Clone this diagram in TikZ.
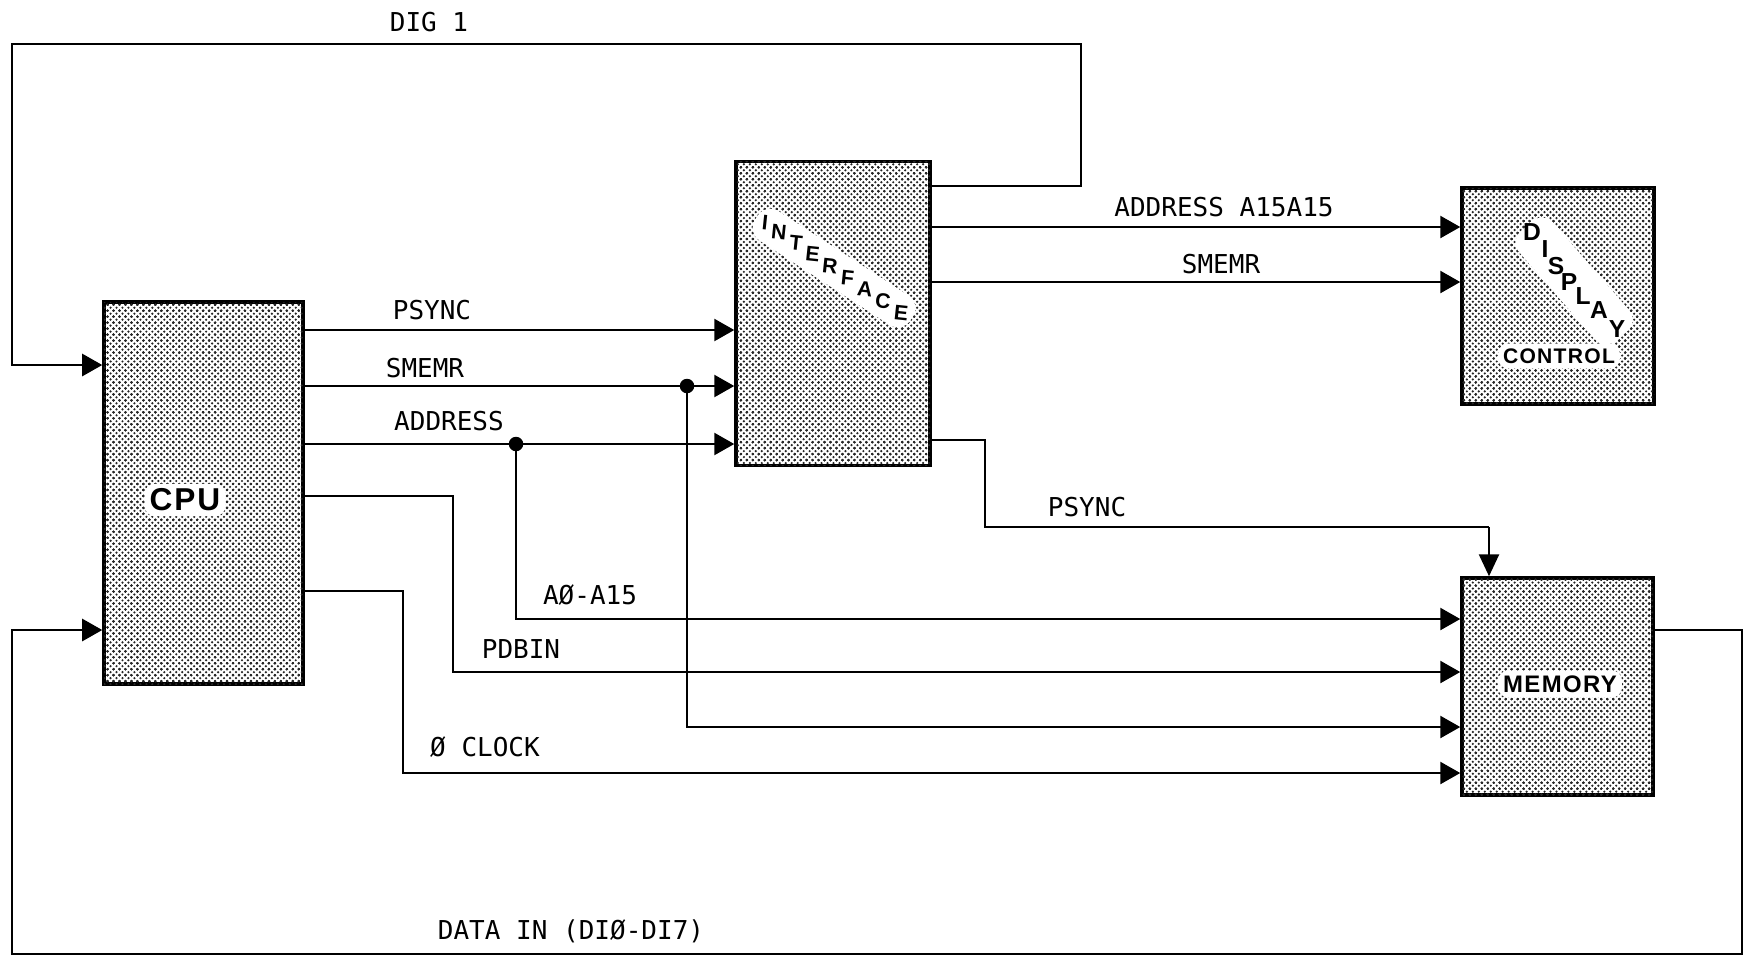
\documentclass[tikz,border=0pt]{standalone}
\usepackage{fontspec}
\usepackage{tikz}
\usetikzlibrary{arrows.meta,patterns}
\newfontfamily\sigfont{DejaVu Sans Mono}
\newfontfamily\boxfont[LetterSpace=6]{Liberation Sans}

\pgfdeclarepatternformonly{halftone}{\pgfqpoint{-1pt}{-1pt}}{\pgfqpoint{4.4pt}{4.4pt}}{\pgfqpoint{3.4pt}{3.4pt}}{%
  \pgfpathcircle{\pgfqpoint{0pt}{0pt}}{.7pt}
  \pgfpathcircle{\pgfqpoint{1.7pt}{1.7pt}}{.7pt}
  \pgfpathcircle{\pgfqpoint{3.4pt}{3.4pt}}{.7pt}
  \pgfpathcircle{\pgfqpoint{3.4pt}{0pt}}{.7pt}
  \pgfpathcircle{\pgfqpoint{0pt}{3.4pt}}{.7pt}
  \pgfusepath{fill}}

\tikzset{
  blk/.style={draw,line width=0.7mm,fill=white,postaction={pattern=halftone,pattern color=black!85}},
  sig/.style={line width=0.5mm},
  sigarr/.style={sig,-{Triangle[length=4mm,width=4.4mm]}},
  lbl/.style={font=\sigfont\fontsize{14.8}{16}\selectfont,inner sep=0pt},
  halo/.style={fill=white,rounded corners=2mm,inner sep=1mm},
  ltr/.style={font=\boxfont\bfseries\fontsize{12}{14}\selectfont,inner sep=0pt},
  jdot/.style={circle,fill,inner sep=0pt,minimum size=2.9mm}
}

\begin{document}
\begin{tikzpicture}[x=0.2mm,y=-0.2mm]
\useasboundingbox (0,0) rectangle (1755,956);
% blocks
\node[blk,minimum width=39.8mm,minimum height=76.4mm] (cpu) at (203.5,493) {};
\node[blk,minimum width=38.8mm,minimum height=60.8mm] (ifc) at (833,313.5) {};
\node[blk,minimum width=38.4mm,minimum height=43.2mm] (disp) at (1558,296) {};
\node[blk,minimum width=38.2mm,minimum height=43.4mm] (mem) at (1557.5,686.5) {};

\node[halo,font=\boxfont\bfseries\fontsize{18}{20}\selectfont] (cpulbl) at (185,500) {CPU};
\node[halo,font=\boxfont\bfseries\fontsize{13.6}{16}\selectfont] (memlbl) at (1560,684) {MEMORY};
\node[fill=white,rotate=-33,minimum width=37mm,minimum height=7mm,rounded corners=3mm] (ifcband) at (834,268) {};
\node[fill=white,rotate=-49,minimum width=29mm,minimum height=9mm,rounded corners=3mm] (dispband) at (1574,281) {};
\node[halo,font=\boxfont\bfseries\fontsize{12}{14}\selectfont] (ctllbl) at (1559,356) {CONTROL};
\foreach \ch/\px/\py [count=\k] in {I/765/223,N/779/232,T/796/243,E/812.5/254,R/830/266,F/847.5/277.5,A/865/289,C/883/301,E/901/313}
  \node[ltr,rotate=-6] (ifl\k) at (\px,\py) {\ch};
\foreach \ch/\px/\py [count=\k] in {D/1532/232,I/1545/249,S/1556/266,P/1569/282,L/1583/296,A/1599/310,Y/1617/329}
  \node[ltr,font=\boxfont\bfseries\fontsize{14}{16}\selectfont] (dpl\k) at (\px,\py) {\ch};

% junctions and bends
\node[jdot] (j1) at (516,444) {};
\node[jdot] (j2) at (687,386) {};
\coordinate (dg) at (1081,44);
\coordinate (pk) at (1489,527);

% CPU to interface
\draw[sigarr] (cpu.east |- 0,330) -- (ifc.west |- 0,330);
\draw[sigarr] (cpu.east |- 0,386) -- (ifc.west |- 0,386);
\draw[sigarr] (cpu.east |- 0,444) -- (ifc.west |- 0,444);
% CPU to memory
\draw[sigarr] (j1.center) -- (516,619) -- (mem.west |- 0,619);
\draw[sigarr] (cpu.east |- 0,496) -| (453,672) -- (mem.west |- 0,672);
\draw[sigarr] (j2.center) -- (687,727) -- (mem.west |- 0,727);
\draw[sigarr] (cpu.east |- 0,591) -| (403,773) -- (mem.west |- 0,773);
% interface outputs
\draw[sigarr] (ifc.east |- 0,227) -- (disp.west |- 0,227);
\draw[sigarr] (ifc.east |- 0,282) -- (disp.west |- 0,282);
\draw[sig] (ifc.east |- 0,440) -| (985,527) -- (pk);
\draw[sig,-{Triangle[length=4.4mm,width=4mm]}] (pk) -- (pk |- mem.north);
% feedback loops
\draw[sigarr] (ifc.east |- 0,186) -| (dg) -| (12,365) -- (cpu.west |- 0,365);
\draw[sigarr] (mem.east |- 0,630) -| (1742,954) -| (12,630) -- (cpu.west |- 0,630);

% signal names
\node[lbl] (ldig) at (429,22) {DIG 1};
\node[lbl] (lps1) at (432,310) {PSYNC};
\node[lbl] (lsm1) at (425,368) {SMEMR};
\node[lbl] (ladr) at (449,421) {ADDRESS};
\node[lbl] (la015) at (590,595) {AØ-A15};
\node[lbl] (lpdb) at (521,649) {PDBIN};
\node[lbl] (lclk) at (485,747) {Ø CLOCK};
\node[lbl] (ladr2) at (1224,207) {ADDRESS A15A15};
\node[lbl] (lsm2) at (1221,264) {SMEMR};
\node[lbl] (lps2) at (1087,507) {PSYNC};
\node[lbl] (ldat) at (571,931) {DATA IN (DIØ-DI7)};
\end{tikzpicture}
\end{document}
